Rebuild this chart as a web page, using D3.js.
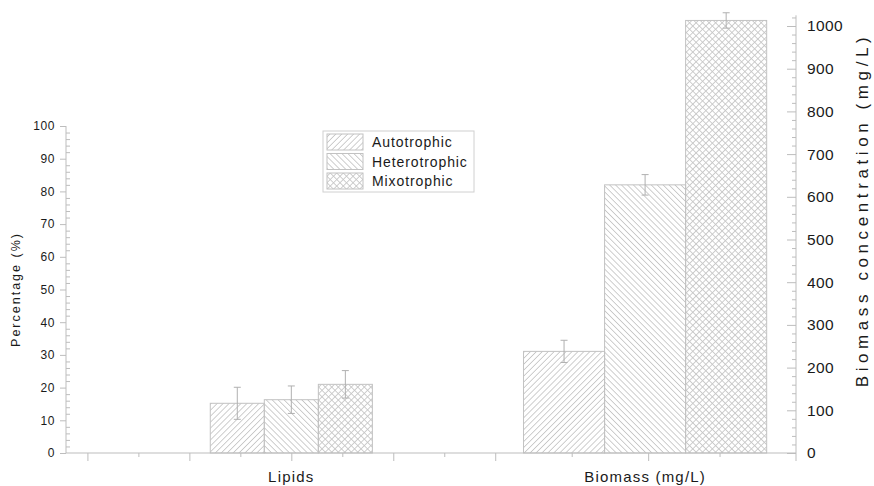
<!DOCTYPE html>
<html>
<head>
<meta charset="utf-8">
<script src="https://cdn.jsdelivr.net/npm/d3@7"></script>
<style>
  html, body { margin: 0; padding: 0; background: #fff; }
  svg text { font-family: "Liberation Sans", Arial, sans-serif; fill: #1a1a1a; }
</style>
</head>
<body>
<svg id="chart" width="874" height="486"></svg>
<script>
// Culture modes and measured quantities
const series = ["Autotrophic", "Heterotrophic", "Mixotrophic"];
const groups = ["Lipids", "Biomass (mg/L)"];

// Lipid content (%) with standard deviation
const lipidValues = [15.2, 16.3, 21.0];
const lipidErrors = [4.9, 4.2, 4.2];

// Biomass concentration (mg/L) with standard deviation
const biomassValues = [238, 628, 1013];
const biomassErrors = [26, 24, 18];

// Axis ticks
const leftTicks = [0, 10, 20, 30, 40, 50, 60, 70, 80, 90, 100];
const rightTicks = [0, 100, 200, 300, 400, 500, 600, 700, 800, 900, 1000];

const svg = d3.select("#chart");
const gray = "#c2c2c2";
const hatchGray = "#c6c6c6";
const axisGray = "#bdbdbd";

// ----- scales -----
const plotLeft = 66, plotRight = 796, baseY = 453;
const x = d3.scaleLinear().domain([-0.42, 13.9]).range([plotLeft, plotRight]);
const yL = d3.scaleLinear().domain([0, 100]).range([baseY, 126]);
const yR = d3.scaleLinear().domain([0, 1000]).range([baseY, 26]);

// group layout in x units: center and single-bar width
const groupLayout = [
  { center: 4.0, barWidth: 1.06, values: lipidValues, errors: lipidErrors, y: yL },
  { center: 10.94, barWidth: 1.59, values: biomassValues, errors: biomassErrors, y: yR }
];

// ----- hatch patterns (small rotated tiles) -----
const defs = svg.append("defs");
function hatch(id, angle, spacing, cross) {
  const p = defs.append("pattern")
    .attr("id", id)
    .attr("patternUnits", "userSpaceOnUse")
    .attr("width", spacing).attr("height", spacing)
    .attr("patternTransform", `rotate(${angle})`);
  p.append("line")
    .attr("x1", spacing / 2).attr("x2", spacing / 2)
    .attr("y1", 0).attr("y2", spacing)
    .attr("stroke", hatchGray).attr("stroke-width", 0.85);
  if (cross) {
    p.append("line")
      .attr("x1", 0).attr("x2", spacing)
      .attr("y1", spacing / 2).attr("y2", spacing / 2)
      .attr("stroke", hatchGray).attr("stroke-width", 0.85);
  }
  return `url(#${id})`;
}
const fills = [
  hatch("pat-auto", 45, 4.2, false),
  hatch("pat-hetero", -45, 4.2, false),
  hatch("pat-mixo", 45, 4.6, true)
];

// ----- bars -----
const barsG = svg.append("g");
groupLayout.forEach(gl => {
  const inner = d3.scaleBand().domain(series)
    .range([gl.center - 1.5 * gl.barWidth, gl.center + 1.5 * gl.barWidth])
    .padding(0);
  series.forEach((s, i) => {
    const x0 = x(inner(s)), x1 = x(inner(s) + inner.bandwidth());
    const v = gl.values[i], e = gl.errors[i];
    barsG.append("rect")
      .attr("x", x0).attr("y", gl.y(v))
      .attr("width", x1 - x0).attr("height", gl.y(0) - gl.y(v))
      .attr("fill", fills[i])
      .attr("stroke", gray).attr("stroke-width", 1);
    // error bar
    const cx = (x0 + x1) / 2;
    const eb = barsG.append("g").attr("stroke", "#b0b0b0").attr("stroke-width", 1);
    eb.append("line").attr("x1", cx).attr("x2", cx).attr("y1", gl.y(v + e)).attr("y2", gl.y(v - e));
    eb.append("line").attr("x1", cx - 3.5).attr("x2", cx + 3.5).attr("y1", gl.y(v + e)).attr("y2", gl.y(v + e));
    eb.append("line").attr("x1", cx - 3.5).attr("x2", cx + 3.5).attr("y1", gl.y(v - e)).attr("y2", gl.y(v - e));
  });
});

// ----- axes -----
function styleAxis(g) {
  g.selectAll("path, line").attr("stroke", axisGray).attr("stroke-width", 1);
  g.select(".domain").remove();
}

// left axis
const leftG = svg.append("g").attr("transform", `translate(${plotLeft},0)`);
leftG.call(d3.axisLeft(yL).tickValues(leftTicks).tickSize(6).tickPadding(5).tickFormat(d3.format("d")))
  .call(styleAxis);
leftG.selectAll("text").attr("font-size", 12).attr("letter-spacing", 0.6).attr("fill", "#1a1a1a");
leftG.append("g").call(d3.axisRight(yL).tickValues(d3.range(0, 101, 2).filter(v => v % 10)).tickSize(4).tickFormat(""))
  .call(styleAxis);
leftG.append("line").attr("x1", 0).attr("x2", 0).attr("y1", yL(100)).attr("y2", baseY)
  .attr("stroke", axisGray);

// right axis
const rightG = svg.append("g").attr("transform", `translate(${plotRight},0)`);
rightG.call(d3.axisRight(yR).tickValues(rightTicks).tickSize(-9).tickPadding(11).tickFormat(d3.format("d")))
  .call(styleAxis);
rightG.selectAll("text").attr("font-size", 15.5).attr("letter-spacing", 0.4).attr("fill", "#1a1a1a");
rightG.append("g").call(d3.axisRight(yR).tickValues(d3.range(0, 1021, 20).filter(v => v % 100)).tickSize(-4).tickFormat(""))
  .call(styleAxis);
rightG.append("line").attr("x1", 0).attr("x2", 0).attr("y1", yR(1025)).attr("y2", baseY + 8)
  .attr("stroke", axisGray);

// bottom axis
const bottomG = svg.append("g").attr("transform", `translate(0,${baseY})`);
bottomG.append("g").call(d3.axisBottom(x).tickValues([0, 2, 4, 6, 8, 11]).tickSize(8).tickFormat(""))
  .call(styleAxis);
bottomG.append("g").call(d3.axisBottom(x).tickValues([1, 3, 5, 7, 9.5, 12.4]).tickSize(4).tickFormat(""))
  .call(styleAxis);
bottomG.append("line").attr("x1", plotLeft).attr("x2", plotRight).attr("y1", 0).attr("y2", 0)
  .attr("stroke", axisGray);

// category labels
groupLayout.forEach((gl, i) => {
  svg.append("text")
    .attr("x", x(gl.center)).attr("y", 482)
    .attr("text-anchor", "middle")
    .attr("font-size", 15).attr("letter-spacing", 1.2)
    .text(groups[i]);
});

// axis titles
svg.append("text")
  .attr("transform", `translate(20,${(yL(0) + yL(100)) / 2}) rotate(-90)`)
  .attr("text-anchor", "middle")
  .attr("font-size", 12.5).attr("letter-spacing", 2)
  .text("Percentage (%)");
svg.append("text")
  .attr("transform", `translate(868,210) rotate(-90)`)
  .attr("text-anchor", "middle")
  .attr("font-size", 17).attr("letter-spacing", 4.6)
  .text("Biomass concentration (mg/L)");

// ----- legend -----
const legend = svg.append("g").attr("transform", "translate(323,131)");
legend.append("rect").attr("width", 151).attr("height", 61)
  .attr("fill", "#fff").attr("stroke", "#d0d0d0");
series.forEach((s, i) => {
  const row = legend.append("g").attr("transform", `translate(4,${3 + i * 19.5})`);
  row.append("rect").attr("width", 36).attr("height", 16)
    .attr("fill", fills[i]).attr("stroke", gray);
  row.append("text").attr("x", 45).attr("y", 13)
    .attr("font-size", 14).attr("letter-spacing", 0.9)
    .text(s);
});
</script>
</body>
</html>
